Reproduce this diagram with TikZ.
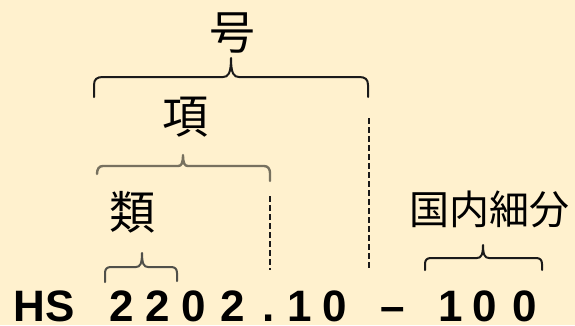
\documentclass[tikz,border=0pt]{standalone}
\usepackage{fontspec}
\setmainfont{Liberation Sans}
\newfontfamily\cjk{Noto Sans CJK JP}
\definecolor{bgc}{RGB}{255,241,206}
\definecolor{inkc}{RGB}{26,26,26}
\definecolor{grayA}{RGB}{119,113,95}
\definecolor{grayB}{RGB}{80,80,74}
\begin{document}
\begin{tikzpicture}[x=1pt,y=-1pt,
  code/.style={font=\fontsize{44}{44}\selectfont\bfseries, inner sep=0pt, anchor=base},
  cjkbig/.style={font=\cjk\fontsize{46}{46}\selectfont, inner sep=0pt},
  cjksmall/.style={font=\cjk\fontsize{40}{40}\selectfont, inner sep=0pt},
  bracket/.style={line width=2pt, line cap=round, line join=round},
  guide/.style={draw=inkc, line width=2pt, dash pattern=on 6pt off 3pt}]
\fill[bgc] (0,0) rectangle (575,325);
\useasboundingbox (0,0) rectangle (575,325);

% code characters
\node[code] (cH)  at (29.5,321) {H};
\node[code] (cS)  at (60,321) {S};
\node[code] (d1)  at (121.5,321) {2};
\node[code] (d2)  at (158,321) {2};
\node[code] (d3)  at (194,321) {0};
\node[code] (d4)  at (233,321) {2};
\node[code] (dot) at (268.5,321) {.};
\node[code] (d5)  at (300,321) {1};
\node[code] (d6)  at (335,321) {0};
\node[code] (dash) at (392.5,321) {–};
\node[code] (d7)  at (450.5,321) {1};
\node[code] (d8)  at (485,321) {0};
\node[code] (d9)  at (525,321) {0};

% labels
\node[cjkbig] (hao)  at (232,33) {号};
\node[cjkbig] (xiang) at (185,117) {項};
\node[cjkbig] (lei)  at (132,212) {類};
\node[cjksmall] (guonei) at (489.5,209) {国内細分};

% braces
\draw[bracket, inkc] (94,97) -- (94,85) .. controls (94,79) and (97,77) .. (103,77) -- (223,77)
  .. controls (228,77) and (231,74) .. (231,58) .. controls (231,74) and (234,77) .. (239,77)
  -- (359,77) .. controls (365,77) and (368,79) .. (368,85) -- (368,97);
\draw[bracket, grayA, line width=2.4pt] (97,174) .. controls (97,169) and (99,166) .. (103,166) -- (178,166)
  .. controls (181,166) and (183,164) .. (183,155) .. controls (183,164) and (185,166) .. (188,166)
  -- (264,166) .. controls (268,166) and (270,169) .. (270,173) -- (270,181);
\draw[bracket, grayB] (105,282) -- (105,273) .. controls (105,269) and (107,267) .. (111,267) -- (136,267)
  .. controls (140,267) and (142,264) .. (142,253) .. controls (142,264) and (144,267) .. (148,267)
  -- (171,267) .. controls (175,267) and (177,269) .. (177,273) -- (177,281);
\draw[bracket, inkc] (425,270) -- (425,264) .. controls (425,260) and (427,258) .. (431,258) -- (477,258)
  .. controls (481,258) and (483,255) .. (483,245) .. controls (483,255) and (485,258) .. (489,258)
  -- (536,258) .. controls (540,258) and (542,260) .. (542,264) -- (542,270);

% dashed guides
\coordinate (g1top) at (270,196);
\coordinate (g1bot) at (270,270);
\coordinate (g2top) at (369,118);
\coordinate (g2bot) at (369,270);
\draw[guide] (g1top) -- (g1bot);
\draw[guide] (g2top) -- (g2bot);
\end{tikzpicture}
\end{document}
